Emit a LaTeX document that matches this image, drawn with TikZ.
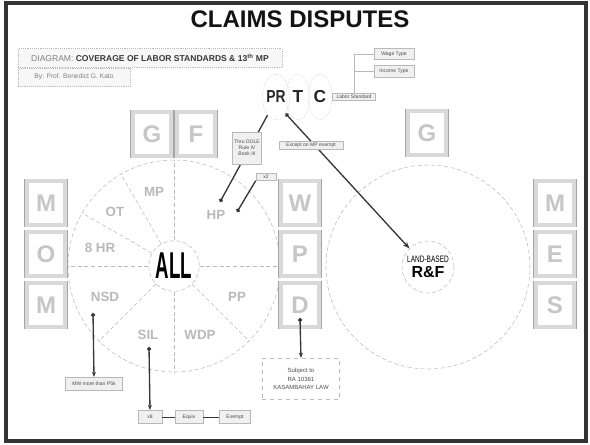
\documentclass[tikz,border=0pt]{standalone}
\usepackage{fontspec}
\setmainfont{Liberation Sans}
\usetikzlibrary{arrows.meta,shapes.geometric,calc}
\definecolor{tinta}{RGB}{55,55,55}
\definecolor{cinza}{RGB}{150,150,150}

\begin{document}
\begin{tikzpicture}[x=0.75pt, y=-0.75pt, >=Stealth,
    keycap/.style={draw=gray!70, double=gray!30, double distance=2.8pt, fill=white,
      minimum width=29pt, minimum height=33pt, inner sep=0pt,
      font=\bfseries\fontsize{18}{18}\selectfont, text=gray!45},
    tag/.style={draw=gray!55, fill=gray!12, inner sep=1.2pt, align=center,
      font=\fontsize{3.8}{4.4}\selectfont, text=gray!60!black},
    sector/.style={draw=gray!55, densely dashed, thin},
    slabel/.style={text=gray!55, font=\bfseries\fontsize{10}{10}\selectfont},
    ring/.style={circle, draw=gray!55, densely dashed, thin, inner sep=0pt},
    link/.style={line width=1pt, tinta},
    thinlink/.style={thin, gray!55}]
    \useasboundingbox (0,0) rectangle (590,444);

    % Moldura e titulo
    \draw[line width=2.5pt, gray!40!black] (6,3) rectangle (586,441);
    \node[font=\bfseries\fontsize{18}{18}\selectfont, gray!15!black] (titulo) at (300,19) {CLAIMS DISPUTES};

    \node[draw=gray!55, densely dotted, fill=gray!6, minimum width=198pt, minimum height=14pt,
      inner sep=1pt, font=\fontsize{6.4}{6.4}\selectfont] (diagrama) at (150,58)
      {{\color{gray}DIAGRAM:} \textbf{\color{tinta}COVERAGE OF LABOR STANDARDS \& 13\textsuperscript{th} MP}};
    \node[draw=gray!55, densely dotted, fill=gray!6, minimum width=84pt, minimum height=14pt,
      inner sep=1pt, anchor=north west, text=gray, font=\fontsize{5}{5}\selectfont] (autor)
      at (diagrama.south west) {By: Prof. Benedict G. Kato};

    % Rodas
    \node[ring, minimum size=159pt] (roda) at (174,266) {};
    \node[ring, minimum size=38pt, font=\bfseries\fontsize{28}{28}\selectfont] (todos) at (174,266)
      {\scalebox{0.5}[1]{ALL}};
    \foreach \a in {0,90,120,150,180,225,270,315}
      \draw[sector] (todos.\a) -- (roda.\a);

    \node[ring, minimum size=153pt] (rodaterra) at (428,267) {};
    \node[ring, minimum size=39pt, align=center, inner sep=0pt] (rf) at (428,267)
      {\scalebox{0.7}[1]{\fontsize{7}{7}\selectfont LAND-BASED}\\[-1pt]{\bfseries\fontsize{12}{12}\selectfont R\&F}};

    % Setores
    \node[slabel] (smp) at (154,192) {MP};
    \node[slabel] (sot) at (115,212) {OT};
    \node[slabel] (shr) at (100,248) {8 HR};
    \node[slabel] (snsd) at (105,297) {NSD};
    \node[slabel] (ssil) at (148,335) {SIL};
    \node[slabel] (swdp) at (200,335) {WDP};
    \node[slabel] (spp) at (237,297) {PP};
    \node[slabel] (shp) at (216,215) {HP};

    % Teclas
    \node[keycap] (kg) at (152,134) {G};
    \node[keycap] (kf) at (196,134) {F};
    \node[keycap] (kg2) at (427,133) {G};
    \node[keycap] (km) at (46,203) {M};
    \node[keycap] (ko) at (46,254) {O};
    \node[keycap] (km2) at (46,305) {M};
    \node[keycap] (kw) at (300,203) {W};
    \node[keycap] (kp) at (300,254) {P};
    \node[keycap] (kd) at (300,305) {D};
    \node[keycap] (kmm) at (555,203) {M};
    \node[keycap] (ke) at (555,254) {E};
    \node[keycap] (ks) at (555,305) {S};

    % PR T C
    \node[ellipse, draw=gray!50, densely dotted, minimum width=18pt, minimum height=34pt, inner sep=0pt,
      font=\bfseries\fontsize{13}{13}\selectfont, text=gray!30!black] (pr) at (276,97) {\scalebox{0.8}[1]{PR}};
    \node[ellipse, draw=gray!50, densely dotted, minimum width=18pt, minimum height=34pt, inner sep=0pt,
      font=\bfseries\fontsize{13}{13}\selectfont, text=gray!30!black] (t) at (298,97) {T};
    \node[ellipse, draw=gray!50, densely dotted, minimum width=18pt, minimum height=34pt, inner sep=0pt,
      font=\bfseries\fontsize{13}{13}\selectfont, text=gray!30!black] (c) at (320,97) {C};

    \node[tag, minimum width=32pt] (padrao) at (354,97) {Labor Standard};
    \node[tag, minimum width=30pt, minimum height=8pt] (salario) at (394,54) {Wage Type};
    \node[tag, minimum width=30pt, minimum height=9pt] (renda) at (394,71) {Income Type};
    \draw[thinlink] (padrao.north) |- (salario.west);
    \draw[thinlink] (padrao.north) |- (renda.west);

    % Ligacoes
    \coordinate (php) at (220,202);
    \coordinate (php2) at (237,212);
    \draw[link, -{Circle[length=3pt]}] (pr.-115) -- (php);
    \draw[link, {Circle[length=3pt]}-{Stealth[length=5pt]}] (pr.-60) -- (rf.135);
    \node[tag, minimum width=20pt, minimum height=24pt] (dole) at (247,148) {Thru DOLE\\Rule IV\\Book III};
    \node[tag, minimum width=15pt] (hpx) at (266,177) {x2};
    \draw[link, -{Circle[length=3pt]}] (hpx.south west) -- (php2);
    \node[tag, minimum width=48pt] (excecao) at (311,145) {Except on MP exempt};

    % Kasambahay
    \coordinate (pd) at (300,318);
    \node[draw=gray!55, dashed, minimum width=58pt, minimum height=31pt, align=center,
      font=\fontsize{4.5}{6.5}\selectfont, text=gray!60!black] (kasam) at (301,379)
      {Subject to\\RA 10361\\KASAMBAHAY LAW};
    \draw[link, {Circle[length=3pt]}-{Stealth[length=4pt]}] (pd) -- (kasam.north);

    % NSD e SIL
    \coordinate (pnsd) at (93,313);
    \node[tag, minimum width=43pt, minimum height=10pt] (mw) at (94,384) {MW more than P5k};
    \draw[link, {Circle[length=3pt]}-{Stealth[length=4pt]}] (pnsd) -- (mw.north);

    \coordinate (psil) at (149,347);
    \node[tag, minimum width=18pt, minimum height=10pt] (x8) at (150,417) {x8};
    \node[tag, minimum width=21pt, minimum height=10pt] (equiv) at (189,417) {Equiv};
    \node[tag, minimum width=23pt, minimum height=10pt] (isento) at (235,417) {Exempt};
    \draw[link, {Circle[length=3pt]}-{Stealth[length=4pt]}] (psil) -- (x8.north);
    \draw[thin, tinta] (x8) -- (equiv) -- (isento);
\end{tikzpicture}
\end{document}
